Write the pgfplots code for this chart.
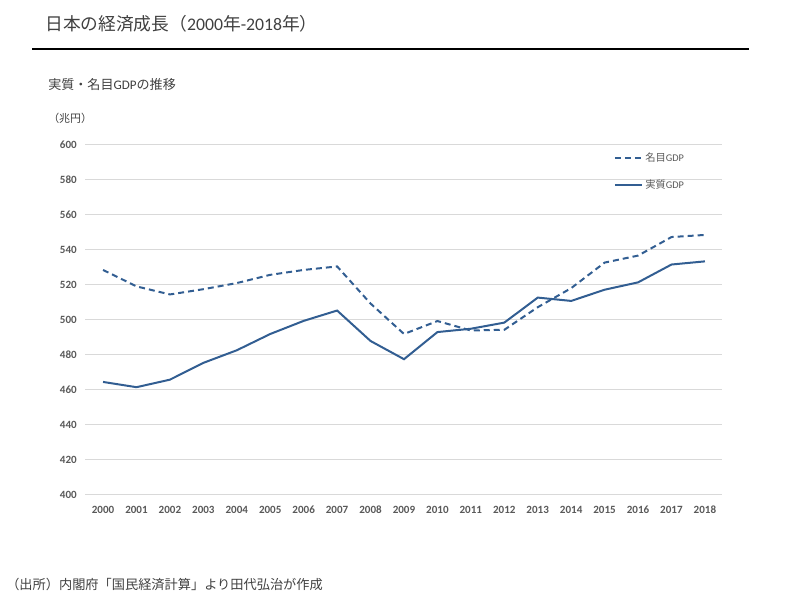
\documentclass[border=0pt]{standalone}
\usepackage{fontspec}
\setmainfont{Carlito}
\newfontfamily\jp{Noto Sans CJK JP}
\usepackage{pgfplots}
\pgfplotsset{compat=1.18}
\definecolor{lineblue}{RGB}{50,94,146}
\definecolor{txt}{RGB}{64,64,64}
\definecolor{tickc}{RGB}{89,89,89}
\definecolor{gridc}{RGB}{217,217,217}

\begin{document}
\begin{tikzpicture}[x=0.75pt,y=0.75pt]
\path[use as bounding box] (0,0) rectangle (800,598);
\coordinate (A) at (85,103);
% title and rule
\node[anchor=base west, inner sep=0, text=txt, font=\fontsize{13.3}{15}\selectfont]
  at (45,567) {{\jp 日本の経済成長（}2000{\jp 年}-2018{\jp 年）}};
\draw[line width=2.2pt] (32,549) -- (749,549);
\node[anchor=base west, inner sep=0, text=txt, font=\fontsize{9.8}{12}\selectfont]
  at (48,508) {{\jp 実質・名目}GDP{\jp の推移}};
\node[anchor=base west, inner sep=0, text=txt, font=\fontsize{8.2}{10}\selectfont]
  at (48,475) {\jp （兆円）};
\node[anchor=base west, inner sep=0, text=txt, font=\fontsize{9.9}{12}\selectfont]
  at (6,8) {\jp （出所）内閣府「国民経済計算」より田代弘治が作成};

\begin{axis}[
  at={(A)}, anchor=south west,
  scale only axis,
  width=477.75pt, height=262.5pt,
  xmin=1999.46, xmax=2018.51,
  ymin=400, ymax=600,
  xtick={2000,...,2018},
  ytick={400,420,...,600},
  /pgf/number format/assume math mode=true,
  /pgf/number format/1000 sep={},
  /pgf/number format/fixed,
  /pgf/number format/precision=0,
  ymajorgrids,
  grid style={gridc, line width=0.75pt},
  axis line style={draw=none},
  major tick length=0pt,
  tick label style={font=\fontsize{8.3}{10}\selectfont\bfseries, text=tickc},
  xticklabel style={inner sep=0pt, yshift=-8pt},
  yticklabel style={inner sep=0pt, xshift=-6pt},
  legend style={at={(0.83,0.985)}, anchor=north west, draw=none, fill=none,
    font=\fontsize{7.7}{9}\selectfont, text=tickc, row sep=8pt,
    inner sep=0pt},
  legend cell align=left,
  legend image code/.code={\draw[#1] (0pt,0pt) -- (20pt,0pt);},
]
\addplot[lineblue, line width=1.5pt, dash pattern=on 4.5pt off 3pt] coordinates {
  (2000,528.6) (2001,519.2) (2002,514.6) (2003,517.6) (2004,521.1)
  (2005,525.8) (2006,528.6) (2007,530.6) (2008,509.4) (2009,492.0)
  (2010,499.4) (2011,494.0) (2012,494.4) (2013,507.3) (2014,518.2)
  (2015,532.8) (2016,536.8) (2017,547.4) (2018,548.6)
};
\addlegendentry{{\jp 名目}GDP}
\addplot[lineblue, line width=1.5pt] coordinates {
  (2000,464.6) (2001,461.6) (2002,465.9) (2003,475.5) (2004,482.7)
  (2005,492.0) (2006,499.5) (2007,505.4) (2008,488.0) (2009,477.6)
  (2010,493.1) (2011,495.0) (2012,498.5) (2013,512.8) (2014,510.9)
  (2015,517.3) (2016,521.5) (2017,531.7) (2018,533.5)
};
\addlegendentry{{\jp 実質}GDP}
\end{axis}
\end{tikzpicture}
\end{document}
